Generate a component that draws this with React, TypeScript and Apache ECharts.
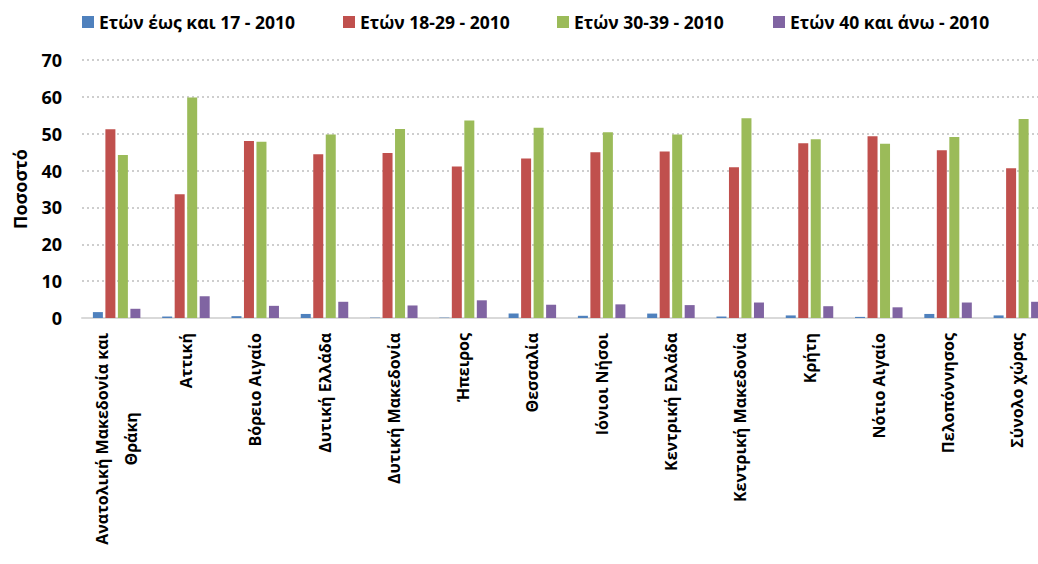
import React, { useEffect, useRef } from "react";
import * as echarts from "echarts";

const categories = [
  "Ανατολική Μακεδονία και\nΘράκη",
  "Αττική",
  "Βόρειο Αιγαίο",
  "Δυτική Ελλάδα",
  "Δυτική Μακεδονία",
  "Ήπειρος",
  "Θεσσαλία",
  "Ιόνιοι Νήσοι",
  "Κεντρική Ελλάδα",
  "Κεντρική Μακεδονία",
  "Κρήτη",
  "Νότιο Αιγαίο",
  "Πελοπόννησος",
  "Σύνολο χώρας",
];

const seriesNames = [
  "Ετών έως και 17 - 2010",
  "Ετών 18-29 - 2010",
  "Ετών 30-39 - 2010",
  "Ετών 40 και άνω - 2010",
];

const upTo17 = [1.6, 0.4, 0.5, 1.1, 0.1, 0.1, 1.2, 0.6, 1.2, 0.4, 0.7, 0.3, 1.1, 0.7];
const age18to29 = [51.2, 33.6, 48.0, 44.4, 44.8, 41.1, 43.3, 45.0, 45.2, 40.9, 47.4, 49.3, 45.5, 40.6];
const age30to39 = [44.2, 59.8, 47.8, 49.8, 51.3, 53.6, 51.6, 50.4, 49.8, 54.2, 48.5, 47.3, 49.1, 54.0];
const age40plus = [2.5, 5.9, 3.3, 4.4, 3.4, 4.8, 3.6, 3.7, 3.5, 4.2, 3.2, 2.9, 4.2, 4.4];

const yTicks = [0, 70, 10];
const colors = ["#4F81BD", "#C0504D", "#9BBB59", "#8064A2"];
const legendLefts = [82, 343, 557, 773];

const FONT = "Open Sans";

export default function App() {
  const ref = useRef<HTMLDivElement>(null);
  useEffect(() => {
    document.body.style.margin = "0";
    const chart = echarts.init(ref.current!, null, { renderer: "svg" });
    const values = [upTo17, age18to29, age30to39, age40plus];
    chart.setOption({
      animation: false,
      textStyle: { fontFamily: FONT },
      color: colors,
      legend: seriesNames.map((name, i) => ({
        top: 13,
        left: legendLefts[i],
        padding: 0,
        itemWidth: 12,
        itemHeight: 12,
        icon: "rect",
        textStyle: { fontFamily: FONT, fontWeight: "bold", fontSize: 17.5, color: "#000" },
        data: [name],
      })),
      grid: {
        left: 82,
        top: 60,
        height: 258,
        width: 970,
        containLabel: false,
        outerBoundsMode: "none",
      },
      xAxis: {
        type: "category",
        data: categories,
        axisLine: { show: true, lineStyle: { color: "#d9d9d9", width: 2 } },
        axisTick: { show: false },
        axisLabel: {
          interval: 0,
          rotate: 90,
          margin: 15,
          fontFamily: FONT,
          fontWeight: "bold",
          fontSize: 16,
          color: "#000",
          lineHeight: 29,
          formatter: (v: string) =>
            v.includes("\n") ? v.split("\n").map((l) => `{c|${l}}`).join("\n") : v,
          rich: {
            c: {
              fontFamily: FONT,
              fontWeight: "bold",
              fontSize: 16,
              color: "#000",
              lineHeight: 29,
              align: "center",
            },
          },
        },
      },
      yAxis: {
        type: "value",
        min: yTicks[0],
        max: yTicks[1],
        interval: yTicks[2],
        name: "Ποσοστό",
        nameLocation: "middle",
        nameGap: 53,
        nameRotate: 90,
        nameTextStyle: { fontFamily: FONT, fontWeight: "bold", fontSize: 18, color: "#000" },
        axisLine: { show: false },
        axisTick: { show: false },
        axisLabel: { fontFamily: FONT, fontWeight: "bold", fontSize: 18, color: "#000", margin: 20 },
        splitLine: { lineStyle: { color: "#bfbfbf", type: [2, 3], width: 1.5 } },
      },
      series: seriesNames.map((name, i) => ({
        name,
        type: "bar",
        data: values[i],
        barWidth: 10,
        barGap: "25%",
        itemStyle: { color: colors[i] },
      })),
    });
    return () => chart.dispose();
  }, []);
  return <div ref={ref} style={{ width: 1038, height: 564 }} />;
}
